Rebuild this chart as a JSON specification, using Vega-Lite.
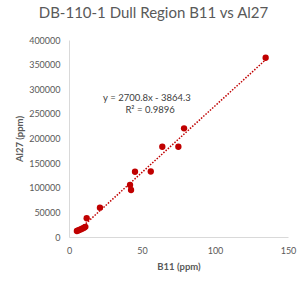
{
  "$schema": "https://vega.github.io/schema/vega-lite/v6.json",
  "width": 219,
  "height": 197,
  "autosize": {"type": "none"},
  "padding": {"left": 69, "top": 40, "right": 18, "bottom": 49},
  "background": "white",
  "title": {
    "text": "DB-110-1 Dull Region B11 vs Al27",
    "font": "Lato",
    "fontSize": 15,
    "fontWeight": "normal",
    "color": "#595959",
    "anchor": "middle",
    "dx": -25,
    "offset": 15
  },
  "config": {
    "view": {"stroke": null},
    "font": "Lato",
    "axis": {
      "grid": false,
      "ticks": false,
      "domainColor": "#D9D9D9",
      "labelColor": "#595959",
      "labelFontSize": 9,
      "labelFlush": false,
      "labelOverlap": false,
      "titleColor": "#595959",
      "titleFontSize": 9.5,
      "titleFontWeight": "bold",
      "labelPadding": 9
    }
  },
  "datasets": {
    "pts": [
      {"b11": 5.4, "al27": 12200},
      {"b11": 6.3, "al27": 13300},
      {"b11": 7.2, "al27": 14600},
      {"b11": 8.2, "al27": 15800},
      {"b11": 9.3, "al27": 17300},
      {"b11": 10.3, "al27": 19000},
      {"b11": 11.2, "al27": 20600},
      {"b11": 12.1, "al27": 38000},
      {"b11": 21.2, "al27": 59500},
      {"b11": 41.8, "al27": 105600},
      {"b11": 42.5, "al27": 95400},
      {"b11": 45.2, "al27": 132500},
      {"b11": 56.0, "al27": 133000},
      {"b11": 63.9, "al27": 183300},
      {"b11": 74.9, "al27": 183300},
      {"b11": 78.8, "al27": 220700},
      {"b11": 134.7, "al27": 364000}
    ],
    "trend": [
      {"b11": 5.4, "al27": 10720},
      {"b11": 134.7, "al27": 359940}
    ],
    "eq": [
      {"b11": 53.4, "al27": 282000, "label": "y = 2700.8x - 3864.3"},
      {"b11": 55.5, "al27": 258000, "label": "R² = 0.9896"}
    ]
  },
  "encoding": {
    "x": {"field": "b11", "type": "quantitative", "scale": {"domain": [0, 150]}, "axis": {"values": [0, 50, 100, 150], "tickCount": 10, "title": "B11 (ppm)", "titlePadding": 6}},
    "y": {"field": "al27", "type": "quantitative", "scale": {"domain": [0, 400000]}, "axis": {"values": [0, 50000, 100000, 150000, 200000, 250000, 300000, 350000, 400000], "tickCount": 12, "format": "d", "title": "Al27 (ppm)", "titlePadding": 4}}
  },
  "layer": [
    {
      "data": {"name": "trend"},
      "mark": {"type": "line", "color": "#C00000", "strokeWidth": 1.5, "strokeDash": [1.5, 1.5]}
    },
    {
      "data": {"name": "pts"},
      "mark": {"type": "point", "filled": true, "opacity": 1, "color": "#C00000", "size": 40}
    },
    {
      "data": {"name": "eq"},
      "mark": {"type": "text", "color": "#404040", "fontSize": 9.5, "align": "center", "baseline": "middle", "font": "Lato"},
      "encoding": {
        "text": {"field": "label"}
      }
    }
  ]
}
